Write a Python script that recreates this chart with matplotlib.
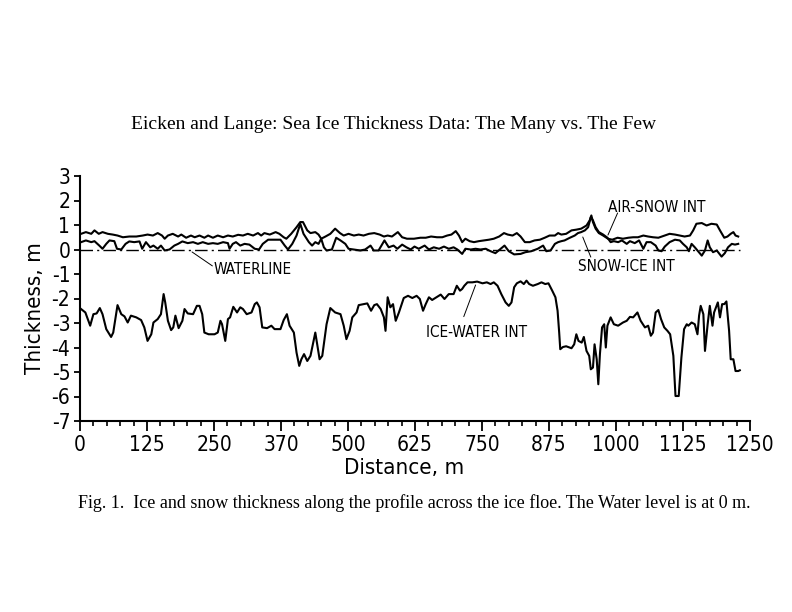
import matplotlib
matplotlib.use("Agg")
import matplotlib.pyplot as plt
from matplotlib import font_manager
from matplotlib.ticker import MultipleLocator, FixedLocator

# Profile data (distance in m, elevation in m relative to water level)
snow_x = [2, 11, 21, 27, 35, 42, 52, 61, 70, 80, 92, 105, 117, 126, 136, 145, 153, 158, 164, 173,
          183, 189, 198, 207, 214, 223, 232, 239, 248, 257, 267, 276, 285, 295, 304, 313, 323, 332,
          338, 344, 354, 365, 372, 380, 385, 394, 404, 411, 416, 424, 430, 439, 445, 450, 458, 467,
          476, 485, 492, 501, 511, 520, 529, 539, 549, 559, 567, 574, 582, 593, 601, 610, 623, 635,
          645, 655, 666, 676, 685, 693, 701, 707, 713, 719, 727, 735, 744, 754, 763, 772, 782, 791,
          798, 807, 815, 822, 830, 839, 848, 858, 867, 876, 886, 892, 898, 907, 917, 926, 935, 945,
          951, 954, 957, 962, 968, 976, 985, 993, 1003, 1013, 1023, 1032, 1041, 1051, 1060, 1069,
          1079, 1091, 1100, 1110, 1119, 1128, 1138, 1144, 1150, 1160, 1169, 1178, 1188, 1194, 1202,
          1208, 1214, 1219, 1223, 1228]
snow_y = [0.64, 0.71, 0.64, 0.78, 0.64, 0.71, 0.64, 0.61, 0.57, 0.50, 0.53, 0.53, 0.57, 0.61, 0.57,
          0.67, 0.57, 0.44, 0.57, 0.64, 0.53, 0.61, 0.48, 0.57, 0.50, 0.57, 0.48, 0.57, 0.48, 0.57,
          0.50, 0.57, 0.53, 0.60, 0.57, 0.64, 0.57, 0.67, 0.57, 0.67, 0.61, 0.71, 0.64, 0.50, 0.44,
          0.64, 0.91, 1.12, 1.12, 0.78, 0.67, 0.71, 0.61, 0.44, 0.53, 0.64, 0.85, 0.67, 0.57, 0.64,
          0.57, 0.61, 0.57, 0.64, 0.67, 0.61, 0.53, 0.57, 0.53, 0.71, 0.50, 0.44, 0.44, 0.48, 0.48,
          0.53, 0.50, 0.50, 0.57, 0.61, 0.75, 0.57, 0.30, 0.44, 0.34, 0.30, 0.34, 0.37, 0.40, 0.44,
          0.53, 0.67, 0.61, 0.57, 0.67, 0.53, 0.30, 0.30, 0.37, 0.40, 0.48, 0.57, 0.57, 0.67, 0.61,
          0.64, 0.78, 0.81, 0.85, 0.98, 1.19, 1.39, 1.12, 0.85, 0.67, 0.57, 0.44, 0.40, 0.48, 0.44,
          0.48, 0.50, 0.50, 0.57, 0.53, 0.50, 0.48, 0.57, 0.64, 0.61, 0.57, 0.53, 0.57, 0.78, 1.05,
          1.08, 0.98, 1.05, 1.02, 0.78, 0.48, 0.53, 0.64, 0.71, 0.57, 0.53]

ice_top_x = [2, 11, 21, 27, 36, 42, 49, 55, 64, 69, 77, 85, 92, 101, 111, 116, 123, 131, 137, 145,
             151, 158, 167, 176, 183, 191, 201, 211, 220, 229, 239, 248, 257, 267, 276, 279, 285,
             291, 299, 307, 316, 326, 334, 341, 351, 363, 374, 382, 388, 396, 404, 411, 417, 427,
             433, 439, 445, 450, 455, 460, 470, 478, 486, 495, 501, 511, 523, 532, 542, 548, 557,
             568, 576, 585, 592, 601, 609, 617, 624, 632, 643, 651, 660, 670, 679, 688, 697, 704,
             713, 719, 729, 738, 747, 757, 766, 775, 785, 792, 800, 810, 822, 831, 842, 854, 864,
             870, 878, 886, 892, 898, 904, 914, 923, 929, 935, 942, 948, 953, 957, 962, 968, 976,
             984, 990, 996, 1004, 1011, 1020, 1026, 1035, 1043, 1051, 1057, 1065, 1074, 1079, 1085,
             1091, 1100, 1110, 1119, 1125, 1132, 1136, 1141, 1147, 1153, 1160, 1166, 1171, 1175,
             1181, 1188, 1197, 1203, 1209, 1216, 1222, 1228]
ice_top_y = [0.30, 0.37, 0.30, 0.34, 0.16, 0.03, 0.23, 0.37, 0.34, 0.03, 0.00, 0.23, 0.33, 0.30,
             0.33, 0.03, 0.30, 0.09, 0.16, 0.03, 0.16, -0.04, 0.00, 0.16, 0.23, 0.33, 0.26, 0.30,
             0.23, 0.30, 0.23, 0.26, 0.23, 0.30, 0.26, 0.03, 0.23, 0.30, 0.16, 0.23, 0.20, 0.03,
             0.00, 0.23, 0.40, 0.40, 0.40, 0.16, 0.00, 0.23, 0.57, 1.05, 0.64, 0.30, 0.16, 0.30,
             0.23, 0.44, 0.09, -0.04, 0.00, 0.48, 0.37, 0.23, 0.03, 0.00, -0.04, 0.00, 0.16, -0.04,
             -0.04, 0.37, 0.09, 0.16, 0.03, 0.20, 0.09, 0.00, 0.12, 0.03, 0.16, 0.00, 0.09, 0.03,
             0.12, 0.03, 0.09, 0.00, -0.18, 0.03, 0.00, 0.03, 0.00, 0.03, -0.07, -0.15, 0.03, 0.16,
             -0.07, -0.20, -0.18, -0.11, -0.07, 0.03, 0.16, -0.07, -0.04, 0.23, 0.30, 0.34, 0.37,
             0.48, 0.57, 0.67, 0.71, 0.78, 0.91, 1.32, 1.19, 0.91, 0.71, 0.61, 0.48, 0.30, 0.34,
             0.30, 0.37, 0.23, 0.34, 0.26, 0.37, 0.03, 0.30, 0.30, 0.16, -0.04, -0.07, 0.12, 0.30,
             0.40, 0.37, 0.23, 0.09, -0.07, 0.23, 0.09, -0.07, -0.25, -0.04, 0.37, 0.09, -0.11,
             -0.04, -0.29, -0.15, 0.09, 0.23, 0.20, 0.23]

ice_bot_x = [2, 10, 19, 25, 31, 37, 42, 49, 58, 62, 70, 77, 83, 89, 95, 105, 114, 120, 126, 133,
             137, 145, 151, 156, 159, 164, 170, 174, 178, 184, 191, 195, 201, 211, 218, 223, 228,
             232, 240, 251, 257, 262, 265, 271, 276, 280, 286, 293, 299, 304, 311, 320, 326, 330,
             335, 340, 349, 357, 363, 374, 380, 386, 391, 399, 404, 409, 413, 418, 424, 430, 439,
             442, 447, 452, 460, 467, 476, 486, 492, 497, 503, 508, 516, 520, 529, 536, 543, 549,
             554, 561, 567, 570, 574, 579, 584, 589, 595, 604, 612, 620, 628, 634, 640, 645, 651,
             657, 665, 673, 680, 688, 697, 703, 709, 713, 717, 723, 732, 741, 751, 759, 766, 772,
             779, 786, 794, 800, 805, 810, 815, 822, 828, 833, 838, 845, 854, 861, 868, 874, 881,
             887, 891, 894, 896, 901, 907, 917, 922, 926, 930, 936, 940, 945, 950, 953, 957, 960,
             964, 967, 970, 974, 978, 981, 984, 990, 996, 1004, 1013, 1020, 1026, 1032, 1040, 1046,
             1054, 1060, 1065, 1069, 1074, 1079, 1084, 1090, 1096, 1101, 1107, 1111, 1117, 1122,
             1127, 1132, 1135, 1141, 1147, 1152, 1155, 1158, 1163, 1166, 1171, 1175, 1180, 1183,
             1190, 1194, 1198, 1202, 1206, 1211, 1214, 1219, 1223, 1228, 1231]
ice_bot_y = [-2.43, -2.57, -3.11, -2.64, -2.61, -2.39, -2.64, -3.25, -3.57, -3.39, -2.27, -2.64,
             -2.73, -2.98, -2.70, -2.77, -2.88, -3.18, -3.73, -3.46, -2.98, -2.84, -2.64, -1.82,
             -2.16, -2.91, -3.29, -3.18, -2.70, -3.21, -2.91, -2.43, -2.61, -2.64, -2.30, -2.30,
             -2.64, -3.39, -3.46, -3.46, -3.39, -2.91, -3.05, -3.73, -2.84, -2.77, -2.34, -2.57,
             -2.36, -2.43, -2.64, -2.57, -2.23, -2.16, -2.36, -3.18, -3.21, -3.11, -3.25, -3.25,
             -2.88, -2.64, -3.11, -3.39, -4.21, -4.75, -4.48, -4.27, -4.55, -4.34, -3.39, -3.80,
             -4.48, -4.34, -3.05, -2.39, -2.57, -2.64, -3.11, -3.66, -3.32, -2.77, -2.57, -2.27,
             -2.23, -2.20, -2.50, -2.27, -2.23, -2.43, -2.77, -3.32, -1.95, -2.36, -2.23, -2.91,
             -2.57, -1.98, -1.89, -1.98, -1.89, -2.02, -2.50, -2.23, -1.95, -2.06, -1.95, -1.84,
             -2.02, -1.82, -1.82, -1.48, -1.68, -1.61, -1.48, -1.34, -1.34, -1.31, -1.38, -1.34,
             -1.41, -1.34, -1.48, -1.82, -2.16, -2.30, -2.16, -1.54, -1.38, -1.30, -1.41, -1.27,
             -1.41, -1.48, -1.41, -1.34, -1.41, -1.38, -1.68, -1.95, -2.50, -3.39, -4.07, -3.98,
             -3.95, -4.03, -3.87, -3.46, -3.73, -3.80, -3.57, -4.14, -4.34, -4.89, -4.82, -3.87,
             -4.48, -5.50, -4.27, -3.18, -3.05, -4.00, -3.11, -2.77, -3.05, -3.11, -2.98, -2.91,
             -2.75, -2.77, -2.57, -2.91, -3.18, -3.11, -3.52, -3.39, -2.57, -2.47, -2.84, -3.18,
             -3.32, -3.46, -4.34, -5.98, -5.98, -4.41, -3.25, -3.05, -3.11, -2.98, -3.05, -3.46,
             -2.70, -2.30, -2.64, -4.14, -3.05, -2.30, -3.11, -2.57, -2.16, -2.77, -2.23, -2.23,
             -2.12, -3.32, -4.48, -4.48, -4.96, -4.96, -4.93]

water_level = 0.0
x_ticks = [0, 125, 250, 375, 500, 625, 750, 875, 1000, 1125, 1250]
x_tick_labels = ["0", "125", "250", "370", "500", "625", "750", "875", "1000", "1125", "1250"]
y_ticks = [3, 2, 1, 0, -1, -2, -3, -4, -5, -6, -7]

# pick a narrow sans for the plot lettering if there is one
names = {f.name for f in font_manager.fontManager.ttflist}
if "Liberation Sans Narrow" in names:
    narrow = dict(family="Liberation Sans Narrow")
else:
    narrow = dict(family="DejaVu Sans", stretch="condensed")
serif = "Liberation Serif"

fig = plt.figure(figsize=(7.92, 6.12), dpi=100)
ax = fig.add_axes([80 / 792, 1 - 421 / 612, 670 / 792, 245 / 612])

ax.plot(snow_x, snow_y, color="black", lw=1.5)
ax.plot(ice_top_x, ice_top_y, color="black", lw=1.5)
ax.plot(ice_bot_x, ice_bot_y, color="black", lw=1.5)
ax.plot([0, ice_bot_x[-1]], [water_level, water_level], color="black", lw=1.0,
        dashes=(9, 3, 1.5, 3))

ax.set_xlim(0, 1250)
ax.set_ylim(-7, 3)
for s in ["top", "right"]:
    ax.spines[s].set_visible(False)
for s in ["left", "bottom"]:
    ax.spines[s].set_linewidth(1.5)

ax.xaxis.set_major_locator(FixedLocator(x_ticks))
ax.xaxis.set_minor_locator(MultipleLocator(25))
ax.set_xticklabels(x_tick_labels)
ax.set_yticks(y_ticks)
ax.set_yticklabels([str(v) for v in y_ticks])
ax.tick_params(axis="x", which="major", length=7, width=1.3, pad=3)
ax.tick_params(axis="x", which="minor", length=3.5, width=1.2)
ax.tick_params(axis="y", which="major", length=4, width=1.3, pad=3)
for lab in ax.get_xticklabels() + ax.get_yticklabels():
    lab.set_fontsize(15)
    lab.set(**narrow)

# curve labels with leader lines
lead = dict(arrowstyle="-", lw=0.7, color="black", shrinkA=0, shrinkB=0)
ax.text(986, 1.73, "AIR-SNOW INT", ha="left", va="center", fontsize=11, **narrow)
ax.annotate("", xy=(985, 0.59), xytext=(1003, 1.49), arrowprops=lead)
ax.text(930, -0.71, "SNOW-ICE INT", ha="left", va="center", fontsize=11, **narrow)
ax.annotate("", xy=(938, 0.51), xytext=(953, -0.31), arrowprops=lead)
ax.text(249, -0.80, "WATERLINE", ha="left", va="center", fontsize=11, **narrow)
ax.annotate("", xy=(209, -0.10), xytext=(247, -0.67), arrowprops=lead)
ax.text(646, -3.39, "ICE-WATER INT", ha="left", va="center", fontsize=11, **narrow)
ax.annotate("", xy=(738, -1.45), xytext=(716, -2.74), arrowprops=lead)

fig.text(35 / 792, 1 - 308 / 612, "Thickness, m", rotation=90, ha="center", va="center",
         fontsize=16, **narrow)
fig.text(404 / 792, 1 - 468 / 612, "Distance, m", ha="center", va="center",
         fontsize=16, **narrow)

fig.text(394 / 792, 1 - 125 / 612, "Eicken and Lange: Sea Ice Thickness Data: The Many vs. The Few",
         ha="center", va="center", fontsize=14, family=serif)
fig.text(78 / 792, 1 - 503 / 612,
         "Fig. 1.  Ice and snow thickness along the profile across the ice floe. The Water level is at 0 m.",
         ha="left", va="center", fontsize=13, family=serif)

fig.savefig("out.png", dpi=100)
